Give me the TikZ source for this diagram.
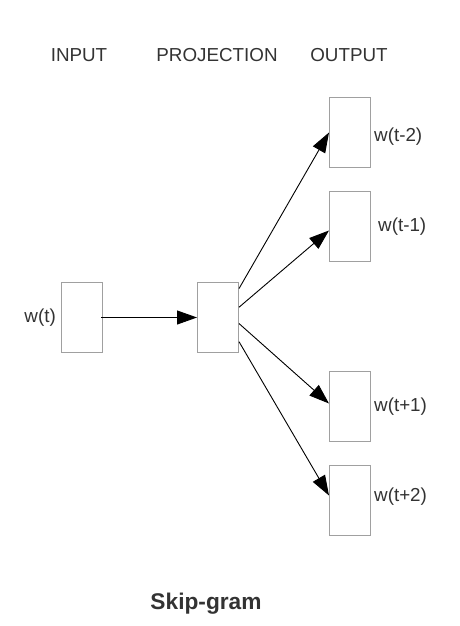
\documentclass[tikz,border=0pt]{standalone}
\usepackage{fontspec}
\setmainfont{Liberation Sans}
\usetikzlibrary{arrows.meta}
\definecolor{txt}{HTML}{333333}
\definecolor{boxc}{HTML}{A0A0A0}
\tikzset{
  wbox/.style={draw=boxc, line width=1pt, fill=white, minimum width=41pt, minimum height=70pt, inner sep=0pt, anchor=north west},
  lbl/.style={text=txt, inner sep=0pt, font=\fontsize{18.8pt}{20pt}\selectfont},
  conn/.style={draw=black, line width=0.9pt, -{Triangle[length=20pt,width=14pt]}},
}
\begin{document}
\begin{tikzpicture}[x=1pt,y=-1pt]
\useasboundingbox[fill=white] (0,0) rectangle (459,626);
\node[lbl] (hin) at (79,55) {INPUT};
\node[lbl] (hproj) at (217,55) {PROJECTION};
\node[lbl] (hout) at (349,55) {OUTPUT};
\node[wbox] (in) at (61,282) {};
\node[wbox] (proj) at (197,282) {};
\node[wbox] (o1) at (329,97) {};
\node[wbox] (o2) at (329,191) {};
\node[wbox] (o3) at (329,371) {};
\node[wbox] (o4) at (329,465) {};
\draw[conn] ([xshift=-2pt]in.east) -- (proj.west);
\draw[conn] (proj.54.7) -- (o1.west);
\draw[conn] (proj.26) -- ([yshift=-4pt]o2.west);
\draw[conn] (proj.-16) -- ([yshift=3pt]o3.west);
\draw[conn] (proj.-49.5) -- ([yshift=5pt]o4.west);
\node[lbl, anchor=east] (lin) at (56,318) {w(t)};
\node[lbl, anchor=west] (l1) at (374,137) {w(t-2)};
\node[lbl, anchor=west] (l2) at (378,227) {w(t-1)};
\node[lbl, anchor=west] (l3) at (374,407) {w(t+1)};
\node[lbl, anchor=west] (l4) at (374,497) {w(t+2)};
\node[lbl, anchor=base, font=\bfseries\fontsize{22.7pt}{24pt}\selectfont] (title) at (206,609) {Skip-gram};
\end{tikzpicture}
\end{document}
